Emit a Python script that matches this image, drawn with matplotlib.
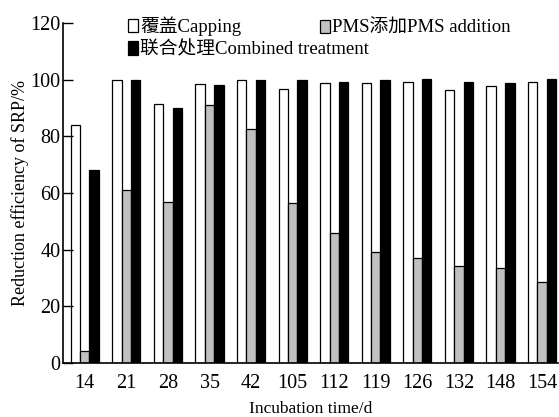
import matplotlib
matplotlib.use('Agg')
import matplotlib.pyplot as plt
import numpy as np

plt.rcParams['font.family'] = ['Liberation Serif', 'Noto Sans CJK SC']

days = ['14', '21', '28', '35', '42', '105', '112', '119', '126', '132', '148', '154']
capping = [84, 100, 91.3, 98.4, 100, 96.8, 98.7, 98.7, 99.3, 96.3, 97.8, 99.3]
pms = [4, 61, 56.8, 91, 82.5, 56.5, 45.7, 39, 37, 34.1, 33.5, 28.5]
combined = [68, 100, 89.9, 98, 100, 99.8, 99.3, 99.8, 100.3, 99.3, 98.8, 100.3]

fig = plt.figure(figsize=(5.59, 4.17), dpi=100)
ax = fig.add_axes([0.113, 0.130, 0.885, 0.815])

x = np.arange(len(days))
w = 0.225
b1 = ax.bar(x - w, capping, w, color='white', edgecolor='black', linewidth=0.9, label='覆盖Capping')
b2 = ax.bar(x, pms, w, color='#c0c0c0', edgecolor='black', linewidth=0.9, label='PMS添加PMS addition')
b3 = ax.bar(x + w, combined, w, color='black', edgecolor='black', linewidth=0.9, label='联合处理Combined treatment')

ax.set_xlim(-0.52, 11.38)
ax.set_ylim(0, 120)
ax.set_yticks(range(0, 121, 20))
ax.set_xticks(x)
ax.set_xticklabels(days)
ax.tick_params(axis='y', direction='in', length=7, width=1, labelsize=14.5, pad=2)
ax.tick_params(axis='x', length=0, labelsize=14.5, pad=8)
for s in ['top', 'right']:
    ax.spines[s].set_visible(False)
for s in ['left', 'bottom']:
    ax.spines[s].set_linewidth(1.2)

ax.set_xlabel('Incubation time/d', fontsize=12.5, labelpad=6)
ax.set_ylabel('Reduction efficiency of SRP/%', fontsize=13, labelpad=1)

opts = dict(loc='upper left', frameon=False, fontsize=13.5, handlelength=0.55,
            handleheight=0.75, handletextpad=0.1, labelspacing=0.25, borderaxespad=0)
leg1 = ax.legend([b1, b3], [b1.get_label(), b3.get_label()],
                 bbox_to_anchor=(0.116, 1.041), **opts)
ax.add_artist(leg1)
ax.legend([b2], [b2.get_label()], bbox_to_anchor=(0.504, 1.032), **opts)

fig.savefig('out.png', dpi=100)
